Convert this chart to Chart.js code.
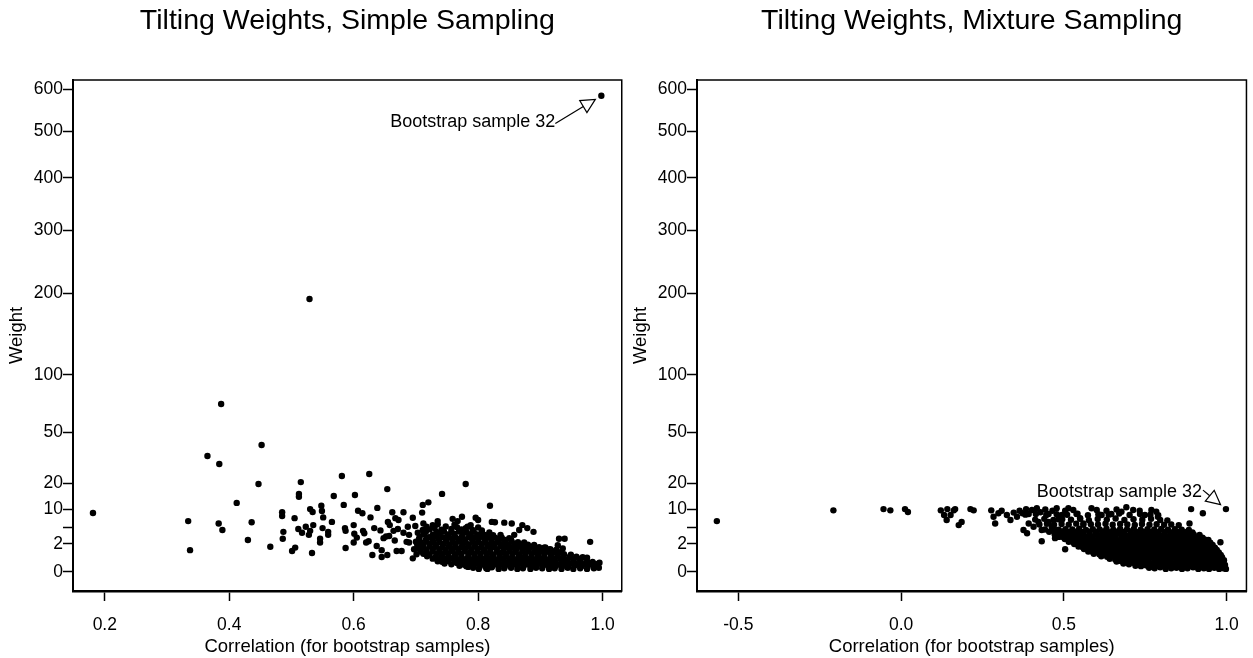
<!DOCTYPE html>
<html lang="en">
<head>
<meta charset="UTF-8">
<title>Tilting Weights</title>
<script src="https://cdn.jsdelivr.net/npm/chart.js"></script>
<style>
  html, body { margin: 0; padding: 0; background: #fff; overflow: hidden; }
  canvas { position: absolute; top: 0; }
  #simpleChart { left: 0; }
  #mixtureChart { left: 624px; }
</style>
</head>
<body>

<canvas id="simpleChart" width="629" height="658"></canvas>
<canvas id="mixtureChart" width="629" height="658"></canvas>

<script>
// ---- data (correlation, weight) ----
const yTickValues = [0, 2, 5, 10, 20, 50, 100, 200, 300, 400, 500, 600];
const yTickLabels = ['0', '2', '', '10', '20', '50', '100', '200', '300', '400', '500', '600'];

const simpleTickValues = [0.2, 0.4, 0.6, 0.8, 1.0];
const simpleTickLabels = ['0.2', '0.4', '0.6', '0.8', '1.0'];
const mixtureTickValues = [-0.5, 0.0, 0.5, 1.0];
const mixtureTickLabels = ['-0.5', '0.0', '0.5', '1.0'];

// annotated point: bootstrap sample 32
const simpleSample32 = [0.998, 584];
const mixtureSample32 = [0.998, 10.1];

// simple sampling: scattered points
const simpleScatter = [
  [0.181,8.9],[0.334,6.6],[0.337,1.2],[0.365,34.5],[0.387,72.5],[0.384,29.9],[0.383,6.0],[0.389,4.5],
  [0.412,12.2],[0.430,2.6],[0.436,6.3],[0.447,19.8],[0.452,41.4],[0.466,1.6],[0.485,9.1],[0.485,8.0],
  [0.487,4.1],[0.486,2.8],[0.501,1.1],[0.506,1.5],[0.505,7.4],[0.515,20.7],[0.512,15.6],[0.512,14.5],
  [0.511,4.7],[0.517,3.9],[0.523,5.2],[0.528,3.5],[0.530,4.3],[0.530,10.1],[0.534,9.2],[0.535,5.6],
  [0.533,0.9],[0.529,191.8],[0.998,584],
  [0.548,11.2],[0.549,9.5],[0.551,7.6],[0.565,6.4],[0.550,4.9],[0.559,4.1],[0.559,3.5],[0.546,2.8],
  [0.546,2.2],[0.581,23.6],[0.625,24.6],[0.568,14.8],[0.602,15.2],[0.654,17.6],[0.584,11.5],[0.607,9.6],
  [0.614,8.8],[0.638,10.5],[0.627,7.6],[0.586,4.9],[0.587,4.3],[0.600,5.6],[0.601,3.7],[0.605,3.0],
  [0.600,2.2],[0.615,4.3],[0.617,3.8],[0.587,1.45],[0.620,2.2],[0.624,2.4],[0.633,4.9],[0.643,4.4],
  [0.637,1.7],[0.630,0.72],[0.645,1.2],[0.645,0.56],[0.654,0.72],[0.648,2.9],[0.652,3.2],[0.655,6.4],
  [0.658,5.6],[0.662,9.1],[0.667,7.4],[0.672,6.9],[0.680,9.1],[0.664,4.3],[0.671,4.7],[0.680,3.9],
  [0.666,2.5],[0.669,1.1],[0.677,1.1],[0.657,3.3],[0.685,2.3],[0.689,2.2],[0.687,5.2],[0.689,3.5],
  [0.695,7.5],[0.710,9.0],[0.711,11.5],[0.720,12.4],[0.742,15.6],[0.699,5.4],[0.703,3.9],[0.697,1.3],
  [0.701,0.78],[0.695,0.46],[0.712,6.0],[0.711,4.5],[0.717,5.2],[0.727,5.6],[0.735,6.6],[0.730,4.9],
  [0.759,7.2],[0.780,19.8],[0.819,11.2],[0.767,6.6],[0.774,7.8],[0.796,7.5],[0.800,6.9],[0.780,4.9],
  [0.822,6.4],[0.827,6.3],[0.842,6.2],[0.854,6.0],[0.871,5.6],[0.879,4.9],[0.889,4.1],[0.866,4.5],
  [0.858,3.5],[0.850,2.9],[0.836,3.5],[0.834,2.9],[0.930,2.8],[0.939,2.8],[0.928,1.8],[0.936,1.4],
  [0.925,1.2],[0.980,2.3],[0.906,1.5],[0.916,1.3],[0.975,0.5],[0.995,0.21],[0.991,0.08],[0.784,0.06],
  [0.815,0.02],[0.802,0.05]
];

// simple sampling: dense cloud near weight 0
const simpleCloud = [
  [0.792,0.04],[0.801,0.02],[0.813,0.03],[0.822,0.05],[0.833,0.02],[0.842,0.03],[0.853,0.04],[0.863,0.02],
  [0.872,0.03],[0.884,0.02],[0.893,0.04],[0.903,0.03],[0.914,0.02],[0.923,0.03],[0.934,0.02],[0.944,0.04],
  [0.953,0.02],[0.964,0.03],[0.975,0.02],[0.986,0.03],[0.994,0.04],
  [0.770,0.09],[0.781,0.08],[0.791,0.10],[0.802,0.07],[0.812,0.09],[0.822,0.08],[0.832,0.10],[0.843,0.08],
  [0.853,0.07],[0.863,0.09],[0.873,0.08],[0.884,0.10],[0.894,0.07],[0.904,0.09],[0.914,0.08],[0.925,0.09],
  [0.935,0.07],[0.945,0.08],[0.955,0.10],[0.966,0.08],[0.976,0.07],[0.986,0.09],
  [0.746,0.17],[0.757,0.14],[0.766,0.19],[0.777,0.13],[0.787,0.16],[0.797,0.18],[0.808,0.14],[0.818,0.15],
  [0.827,0.17],[0.838,0.13],[0.848,0.16],[0.858,0.15],[0.868,0.18],[0.879,0.14],[0.888,0.15],[0.898,0.17],
  [0.909,0.13],[0.918,0.16],[0.929,0.14],[0.939,0.15],[0.948,0.17],[0.958,0.13],[0.969,0.15],[0.979,0.14],
  [0.989,0.16],
  [0.735,0.28],[0.742,0.25],[0.752,0.29],[0.762,0.26],[0.772,0.30],[0.782,0.27],[0.792,0.24],[0.803,0.28],
  [0.813,0.26],[0.823,0.29],[0.833,0.27],[0.843,0.25],[0.853,0.28],[0.863,0.30],[0.874,0.26],[0.884,0.27],
  [0.894,0.29],[0.904,0.25],[0.914,0.28],[0.924,0.26],[0.934,0.27],[0.944,0.29],[0.954,0.25],[0.964,0.27],
  [0.975,0.26],[0.984,0.24],
  [0.727,0.44],[0.737,0.38],[0.748,0.42],[0.758,0.46],[0.768,0.39],[0.779,0.41],[0.789,0.37],[0.798,0.45],
  [0.809,0.40],[0.819,0.43],[0.829,0.38],[0.840,0.42],[0.850,0.44],[0.860,0.37],[0.870,0.41],[0.880,0.43],
  [0.891,0.39],[0.901,0.42],[0.911,0.38],[0.922,0.41],[0.932,0.44],[0.942,0.37],[0.953,0.40],[0.963,0.42],
  [0.974,0.36],
  [0.718,0.62],[0.732,0.58],[0.742,0.63],[0.753,0.57],[0.763,0.61],[0.773,0.64],[0.784,0.59],[0.794,0.62],
  [0.804,0.56],[0.814,0.60],[0.824,0.63],[0.835,0.58],[0.845,0.61],[0.855,0.57],[0.865,0.62],[0.875,0.59],
  [0.886,0.60],[0.896,0.64],[0.906,0.57],[0.917,0.61],[0.927,0.59],[0.937,0.62],[0.947,0.56],[0.958,0.58],
  [0.968,0.55],
  [0.712,0.82],[0.722,0.77],[0.733,0.86],[0.743,0.79],[0.752,0.84],[0.763,0.75],[0.773,0.81],[0.784,0.88],
  [0.794,0.78],[0.804,0.83],[0.814,0.80],[0.825,0.76],[0.835,0.85],[0.845,0.79],[0.855,0.82],[0.866,0.77],
  [0.876,0.84],[0.886,0.80],[0.897,0.78],[0.907,0.83],[0.917,0.76],[0.928,0.81],[0.938,0.79],[0.949,0.74],
  [0.708,1.06],[0.717,1.02],[0.727,1.09],[0.738,1.04],[0.748,0.99],[0.758,1.07],[0.768,1.03],[0.778,1.10],
  [0.789,1.01],[0.799,1.05],[0.809,1.08],[0.819,1.00],[0.830,1.06],[0.840,1.03],[0.850,1.09],[0.860,1.02],
  [0.871,1.05],[0.881,1.07],[0.891,1.01],[0.902,1.04],[0.912,1.06],[0.922,0.98],[0.933,0.97],
  [0.706,1.34],[0.717,1.27],[0.727,1.38],[0.738,1.30],[0.748,1.25],[0.758,1.36],[0.768,1.31],[0.779,1.40],
  [0.789,1.28],[0.799,1.33],[0.810,1.26],[0.820,1.37],[0.830,1.30],[0.841,1.35],[0.851,1.27],[0.862,1.32],
  [0.872,1.29],[0.882,1.36],[0.893,1.25],[0.903,1.31],[0.914,1.28],[0.926,1.22],
  [0.703,1.63],[0.711,1.58],[0.722,1.66],[0.732,1.60],[0.743,1.55],[0.753,1.65],[0.763,1.61],[0.773,1.57],
  [0.784,1.68],[0.794,1.62],[0.805,1.56],[0.815,1.64],[0.825,1.59],[0.836,1.67],[0.846,1.60],[0.856,1.57],
  [0.867,1.63],[0.877,1.58],[0.887,1.61],[0.898,1.55],[0.908,1.52],
  [0.702,1.98],[0.712,1.90],[0.722,2.02],[0.733,1.93],[0.744,1.99],[0.754,1.88],[0.764,2.05],[0.775,1.95],
  [0.785,1.91],[0.796,2.00],[0.806,1.94],[0.817,1.89],[0.827,2.03],[0.838,1.96],[0.848,1.90],[0.859,1.98],
  [0.869,1.92],[0.880,1.87],[0.890,1.85],
  [0.700,2.32],[0.707,2.27],[0.717,2.36],[0.728,2.29],[0.738,2.24],[0.749,2.34],[0.759,2.30],[0.770,2.38],
  [0.780,2.26],[0.791,2.33],[0.801,2.28],[0.812,2.35],[0.822,2.25],[0.833,2.31],[0.843,2.27],[0.854,2.33],
  [0.864,2.24],[0.874,2.20],
  [0.705,2.75],[0.716,2.66],[0.727,2.80],[0.737,2.70],[0.748,2.64],[0.758,2.78],[0.769,2.72],[0.779,2.67],
  [0.790,2.82],[0.800,2.71],[0.811,2.65],[0.821,2.76],[0.832,2.69],[0.843,2.62],[0.853,2.60],
  [0.706,3.12],[0.721,3.05],[0.732,3.18],[0.743,3.08],[0.753,3.14],[0.764,3.02],[0.774,3.16],[0.785,3.09],
  [0.795,3.04],[0.806,3.13],[0.816,3.07],[0.827,3.00],[0.838,2.98],
  [0.713,3.62],[0.727,3.55],[0.738,3.70],[0.751,3.58],[0.762,3.66],[0.775,3.52],[0.787,3.64],[0.799,3.57],
  [0.811,3.50],[0.824,3.45],
  [0.716,4.12],[0.733,4.05],[0.745,4.20],[0.757,4.08],[0.769,4.15],[0.781,4.02],[0.793,4.10],[0.806,3.98],
  [0.818,3.95],
  [0.722,4.62],[0.741,4.55],[0.757,4.70],[0.773,4.58],[0.791,4.50],[0.806,4.40],
  [0.729,5.20],[0.748,5.28],[0.766,5.12],[0.783,5.22],[0.800,5.05],
  [0.735,5.80],[0.762,5.70],[0.788,5.60]
];

// mixture sampling: scattered points
const mixtureScatter = [
  [-0.566,6.6],[-0.208,9.7],[-0.054,10.1],[-0.033,9.7],[0.012,10.1],[0.021,9.2],[0.122,9.7],[0.142,10.1],
  [0.132,8.3],[0.140,6.9],[0.166,10.1],[0.177,5.6],[0.162,9.7],[0.152,8.3],[0.186,6.4],[0.213,10.1],
  [0.223,9.7],[0.277,9.7],[0.284,7.8],[0.289,6.0],[0.299,8.8],[0.309,9.6],
  [0.325,8.3],[0.336,6.9],[0.346,9.0],[0.356,7.8],[0.364,9.6],[0.373,8.8],[0.384,10.1],[0.392,8.6],
  [0.402,9.8],[0.417,10.4],[0.428,9.1],[0.443,10.0],[0.453,8.6],[0.465,9.6],[0.478,10.4],
  [0.376,4.5],[0.392,6.0],[0.407,5.2],[0.422,6.4],[0.432,4.5],[0.387,3.8],[0.432,2.4],[0.473,2.9],[0.504,1.3],
  [0.453,6.4],[0.463,5.2],[0.473,4.5],[0.483,7.1],[0.494,8.3],[0.504,9.6],[0.514,10.4],[0.529,9.8],
  [0.539,8.6],[0.550,7.4],[0.560,6.0],[0.555,4.1],[0.565,3.2],[0.575,2.6],
  [0.585,10.4],[0.601,9.8],[0.616,8.3],[0.631,9.6],[0.646,8.6],[0.662,10.0],[0.677,9.3],[0.692,10.7],
  [0.713,9.8],[0.733,9.6],[0.749,8.3],[0.769,9.8],[0.784,9.3],[0.789,7.8],
  [0.886,6.0],[0.891,10.1],[0.927,8.8],[0.998,10.1],[0.981,2.23],[0.932,2.7],[0.922,1.6],
  [0.621,0.87],[0.646,0.72],[0.677,0.46],[0.697,0.35]
];

// mixture sampling: dense cloud
const mixtureCloud = [
  [0.762,0.04],[0.779,0.03],[0.796,0.05],[0.813,0.02],[0.830,0.03],[0.846,0.04],[0.863,0.02],[0.880,0.03],
  [0.897,0.05],[0.913,0.02],[0.930,0.03],[0.946,0.02],[0.962,0.04],[0.977,0.02],[0.990,0.03],[0.998,0.02],
  [0.720,0.09],[0.737,0.08],[0.754,0.10],[0.771,0.07],[0.788,0.09],[0.805,0.08],[0.822,0.10],[0.838,0.07],
  [0.855,0.09],[0.872,0.08],[0.889,0.09],[0.905,0.07],[0.922,0.10],[0.938,0.08],[0.954,0.09],[0.969,0.07],
  [0.983,0.08],[0.994,0.09],
  [0.683,0.17],[0.700,0.14],[0.717,0.18],[0.734,0.13],[0.751,0.16],[0.768,0.15],[0.785,0.19],[0.802,0.14],
  [0.819,0.16],[0.836,0.13],[0.853,0.17],[0.870,0.15],[0.887,0.14],[0.904,0.18],[0.921,0.15],[0.938,0.13],
  [0.954,0.16],[0.970,0.14],[0.984,0.15],[0.995,0.12],
  [0.662,0.27],[0.675,0.29],[0.692,0.25],[0.709,0.28],[0.726,0.26],[0.743,0.30],[0.760,0.27],[0.777,0.24],
  [0.794,0.28],[0.811,0.26],[0.828,0.29],[0.845,0.25],[0.862,0.27],[0.879,0.28],[0.896,0.26],[0.913,0.29],
  [0.930,0.25],[0.946,0.27],[0.962,0.28],[0.977,0.26],[0.989,0.24],
  [0.641,0.43],[0.658,0.38],[0.675,0.45],[0.692,0.40],[0.709,0.37],[0.726,0.44],[0.743,0.41],[0.760,0.39],
  [0.777,0.46],[0.794,0.40],[0.811,0.37],[0.828,0.43],[0.845,0.41],[0.862,0.38],[0.879,0.44],[0.896,0.40],
  [0.913,0.42],[0.930,0.37],[0.947,0.41],[0.964,0.39],[0.980,0.36],[0.992,0.34],
  [0.615,0.62],[0.633,0.58],[0.650,0.64],[0.667,0.59],[0.684,0.61],[0.701,0.57],[0.718,0.63],[0.735,0.60],
  [0.752,0.56],[0.769,0.62],[0.786,0.59],[0.803,0.64],[0.820,0.58],[0.837,0.61],[0.854,0.57],[0.871,0.63],
  [0.888,0.60],[0.905,0.58],[0.922,0.62],[0.939,0.59],[0.956,0.61],[0.972,0.57],[0.986,0.55],
  [0.592,0.83],[0.609,0.78],[0.626,0.86],[0.643,0.80],[0.660,0.75],[0.677,0.84],[0.694,0.79],[0.711,0.87],
  [0.728,0.81],[0.745,0.77],[0.762,0.85],[0.779,0.80],[0.796,0.76],[0.813,0.83],[0.830,0.79],[0.847,0.86],
  [0.864,0.78],[0.881,0.82],[0.898,0.80],[0.915,0.75],[0.932,0.84],[0.949,0.79],[0.966,0.77],[0.982,0.72],
  [0.575,1.06],[0.588,1.02],[0.605,1.09],[0.622,1.03],[0.639,0.99],[0.656,1.07],[0.673,1.04],[0.690,1.10],
  [0.707,1.01],[0.724,1.05],[0.741,1.08],[0.758,1.00],[0.775,1.06],[0.792,1.03],[0.809,1.09],[0.826,1.02],
  [0.843,1.05],[0.860,1.07],[0.877,1.01],[0.894,1.04],[0.911,1.06],[0.928,1.00],[0.945,1.03],[0.962,0.98],
  [0.976,0.95],
  [0.562,1.33],[0.579,1.27],[0.596,1.38],[0.613,1.30],[0.630,1.25],[0.647,1.36],[0.664,1.29],[0.681,1.40],
  [0.698,1.32],[0.715,1.26],[0.732,1.37],[0.749,1.31],[0.766,1.28],[0.783,1.35],[0.800,1.30],[0.817,1.24],
  [0.834,1.38],[0.851,1.29],[0.868,1.33],[0.885,1.27],[0.902,1.35],[0.919,1.30],[0.936,1.26],[0.953,1.32],
  [0.970,1.22],
  [0.545,1.63],[0.557,1.58],[0.574,1.66],[0.591,1.60],[0.608,1.55],[0.625,1.65],[0.642,1.61],[0.659,1.57],
  [0.676,1.68],[0.693,1.62],[0.710,1.56],[0.727,1.64],[0.744,1.59],[0.761,1.67],[0.778,1.60],[0.795,1.57],
  [0.812,1.63],[0.829,1.58],[0.846,1.61],[0.863,1.55],[0.880,1.66],[0.897,1.60],[0.914,1.57],[0.931,1.62],
  [0.948,1.56],[0.964,1.50],
  [0.532,1.97],[0.549,1.90],[0.566,2.03],[0.583,1.93],[0.600,1.88],[0.617,2.00],[0.634,1.95],[0.651,2.06],
  [0.668,1.91],[0.685,1.98],[0.702,1.89],[0.719,2.04],[0.736,1.94],[0.753,1.99],[0.770,1.87],[0.787,2.02],
  [0.804,1.96],[0.821,1.90],[0.838,2.05],[0.855,1.93],[0.872,1.99],[0.889,1.91],[0.906,2.01],[0.923,1.95],
  [0.940,1.88],[0.957,1.84],
  [0.515,2.32],[0.528,2.27],[0.545,2.36],[0.562,2.29],[0.579,2.24],[0.596,2.34],[0.613,2.30],[0.630,2.38],
  [0.647,2.26],[0.664,2.33],[0.681,2.28],[0.698,2.35],[0.715,2.25],[0.732,2.31],[0.749,2.27],[0.766,2.33],
  [0.783,2.24],[0.800,2.36],[0.817,2.29],[0.834,2.26],[0.851,2.34],[0.868,2.28],[0.885,2.31],[0.902,2.25],
  [0.919,2.30],[0.936,2.22],[0.950,2.18],
  [0.503,2.74],[0.520,2.66],[0.537,2.80],[0.554,2.69],[0.571,2.63],[0.588,2.77],[0.605,2.71],[0.622,2.84],
  [0.639,2.67],[0.656,2.75],[0.673,2.62],[0.690,2.79],[0.707,2.70],[0.724,2.65],[0.741,2.82],[0.758,2.73],
  [0.775,2.68],[0.792,2.78],[0.809,2.64],[0.826,2.76],[0.843,2.70],[0.860,2.81],[0.877,2.66],[0.894,2.74],
  [0.911,2.69],[0.928,2.62],[0.944,2.58],
  [0.485,3.12],[0.499,3.05],[0.517,3.18],[0.535,3.08],[0.552,3.14],[0.570,3.02],[0.588,3.16],[0.606,3.09],
  [0.623,3.04],[0.641,3.13],[0.659,3.07],[0.677,3.20],[0.694,3.03],[0.712,3.11],[0.730,3.06],[0.748,3.15],
  [0.765,3.01],[0.783,3.10],[0.801,3.05],[0.819,3.17],[0.836,3.04],[0.854,3.12],[0.872,3.06],[0.890,3.09],
  [0.908,3.00],[0.926,2.96],
  [0.472,3.58],[0.490,3.66],[0.508,3.52],[0.526,3.70],[0.543,3.60],[0.561,3.55],[0.579,3.72],[0.597,3.62],
  [0.614,3.50],[0.632,3.68],[0.650,3.57],[0.668,3.75],[0.685,3.61],[0.703,3.54],[0.721,3.69],[0.739,3.59],
  [0.756,3.65],[0.774,3.51],[0.792,3.71],[0.810,3.60],[0.827,3.56],[0.845,3.67],[0.863,3.53],[0.881,3.63],
  [0.899,3.58],[0.917,3.48],
  [0.455,4.10],[0.474,4.02],[0.495,4.18],[0.516,4.06],[0.537,4.14],[0.558,4.00],[0.579,4.12],[0.600,4.05],
  [0.621,4.20],[0.642,4.03],[0.663,4.11],[0.684,4.07],[0.705,4.16],[0.726,4.01],[0.747,4.09],[0.768,4.13],
  [0.789,4.04],[0.810,4.10],[0.831,3.99],[0.852,4.08],[0.873,4.02],[0.895,3.95],
  [0.442,4.60],[0.463,4.72],[0.484,4.55],[0.505,4.68],[0.526,4.58],[0.547,4.75],[0.568,4.52],[0.589,4.66],
  [0.610,4.60],[0.631,4.78],[0.652,4.54],[0.673,4.69],[0.694,4.61],[0.715,4.73],[0.736,4.56],[0.757,4.65],
  [0.778,4.59],[0.799,4.70],[0.820,4.53],[0.841,4.64],[0.862,4.57],[0.884,4.48],
  [0.425,5.75],[0.448,5.90],[0.470,5.68],[0.493,5.85],[0.515,5.72],[0.538,5.95],[0.560,5.66],[0.583,5.82],
  [0.605,5.74],[0.628,5.92],[0.650,5.70],[0.673,5.86],[0.695,5.77],[0.718,5.64],[0.740,5.88],[0.763,5.71],
  [0.785,5.80],[0.808,5.67],[0.830,5.76],[0.853,5.60],
  [0.412,7.0],[0.440,7.2],[0.468,6.9],[0.495,7.1],[0.522,6.95],[0.550,7.25],[0.577,6.85],[0.604,7.15],
  [0.632,7.0],[0.659,7.3],[0.686,6.9],[0.714,7.1],[0.741,6.95],[0.768,7.2],[0.796,6.9],[0.818,6.8],
  [0.382,8.4],[0.414,8.6],[0.446,8.3],[0.478,8.5],[0.510,8.35],[0.542,8.65],[0.574,8.25],[0.606,8.5],
  [0.638,8.4],[0.670,8.7],[0.702,8.3],[0.734,8.55],[0.766,8.4],[0.790,8.2]
];

Chart.defaults.font.family = '"Liberation Sans", Arial, Helvetica, sans-serif';
Chart.defaults.color = '#000';

// square-root axis (weights are plotted on sqrt scale)
const sq = v => v < 0 ? -Math.sqrt(-v) : Math.sqrt(v);
class SqrtScale extends Chart.LinearScale {
    getPixelForValue(value) {
        const a = sq(this.min), b = sq(this.max);
        return this.getPixelForDecimal((sq(value) - a) / (b - a));
    }
    getValueForPixel(pixel) {
        const a = sq(this.min), b = sq(this.max);
        const t = a + this.getDecimalForPixel(pixel) * (b - a);
        return t < 0 ? -t * t : t * t;
    }
}
SqrtScale.id = 'sqrt';
Chart.register(SqrtScale);

// frame around plot + arrow callout
function framePlugin(point, textDx, textDy, lineDx, lineDy) {
    return {
        id: 'frame',
        afterDatasetsDraw(chart) {
            const { ctx, chartArea: a, scales } = chart;
            ctx.save();
            ctx.strokeStyle = '#000';
            ctx.lineWidth = 1.5;
            ctx.strokeRect(a.left, a.top, a.right - a.left, a.bottom - a.top);

            const px = scales.x.getPixelForValue(point[0]);
            const py = scales.y.getPixelForValue(point[1]);
            ctx.font = '18px "Liberation Sans", Arial, sans-serif';
            ctx.fillStyle = '#000';
            ctx.textAlign = 'right';
            ctx.textBaseline = 'middle';
            ctx.fillText('Bootstrap sample 32', px + textDx, py + textDy);

            const sx = px + lineDx, sy = py + lineDy;
            const len = Math.hypot(px - sx, py - sy);
            const ux = (px - sx) / len, uy = (py - sy) / len;
            const tx = px - 7 * ux, ty = py - 7 * uy;
            const bx = tx - 14 * ux, by = ty - 14 * uy;
            ctx.lineWidth = 1.2;
            ctx.beginPath();
            ctx.moveTo(sx, sy);
            ctx.lineTo(bx, by);
            ctx.stroke();
            ctx.beginPath();
            ctx.moveTo(tx, ty);
            ctx.lineTo(bx - 7 * uy, by + 7 * ux);
            ctx.lineTo(bx + 7 * uy, by - 7 * ux);
            ctx.closePath();
            ctx.fillStyle = '#fff';
            ctx.fill();
            ctx.stroke();
            ctx.restore();
        }
    };
}

function makeChart(id, title, points, xMin, xMax, xTicks, xLabels, plugin) {
    return new Chart(document.getElementById(id), {
        type: 'scatter',
        data: {
            datasets: [{
                data: points.map(p => ({ x: p[0], y: p[1] })),
                pointRadius: 3.2,
                pointHoverRadius: 3.2,
                pointBackgroundColor: '#000',
                pointBorderWidth: 0
            }]
        },
        options: {
            responsive: false,
            animation: false,
            layout: { padding: { left: 0, right: 4, top: 0, bottom: 0 } },
            plugins: {
                legend: { display: false },
                tooltip: { enabled: false },
                title: {
                    display: true,
                    text: title,
                    fullSize: false,
                    color: '#000',
                    font: { size: 28.5, weight: 'normal', lineHeight: 1.2 },
                    padding: { top: 4, bottom: 41.8 }
                }
            },
            scales: {
                x: {
                    type: 'linear',
                    min: xMin,
                    max: xMax,
                    bounds: 'data',
                    afterBuildTicks: s => { s.ticks = xTicks.map(v => ({ value: v })); },
                    afterFit: s => { s.height = 67; },
                    ticks: {
                        autoSkip: false, maxRotation: 0, padding: 14,
                        font: { size: 17.5 },
                        callback: (v, i) => xLabels[i]
                    },
                    grid: { drawOnChartArea: false, tickLength: 10, tickWidth: 1.5, tickColor: '#000' },
                    border: { display: true, color: '#000', width: 2.5 },
                    title: {
                        display: true,
                        text: 'Correlation (for bootstrap samples)',
                        font: { size: 18.5 },
                        padding: { top: 0, bottom: 0 }
                    }
                },
                y: {
                    type: 'sqrt',
                    min: -0.96,
                    max: 623.4,
                    bounds: 'data',
                    afterBuildTicks: s => { s.ticks = yTickValues.map(v => ({ value: v })); },
                    afterFit: s => { s.width = 73; },
                    ticks: {
                        autoSkip: false, padding: 0,
                        font: { size: 17.5 },
                        callback: (v, i) => yTickLabels[i]
                    },
                    grid: { drawOnChartArea: false, tickLength: 10, tickWidth: 1.5, tickColor: '#000' },
                    border: { display: true, color: '#000', width: 2 },
                    title: {
                        display: true,
                        text: 'Weight',
                        font: { size: 18.5 },
                        padding: { top: 6, bottom: 0 }
                    }
                }
            }
        },
        plugins: [plugin]
    });
}

makeChart('simpleChart', 'Tilting Weights, Simple Sampling',
    simpleScatter.concat(simpleCloud), 0.1489, 1.0308,
    simpleTickValues, simpleTickLabels,
    framePlugin(simpleSample32, -46, 26, -46, 27.6));

makeChart('mixtureChart', 'Tilting Weights, Mixture Sampling',
    mixtureScatter.concat(mixtureCloud), -0.627, 1.061,
    mixtureTickValues, mixtureTickLabels,
    framePlugin(mixtureSample32, -24, -17, -23, -19));
</script>

</body>
</html>
